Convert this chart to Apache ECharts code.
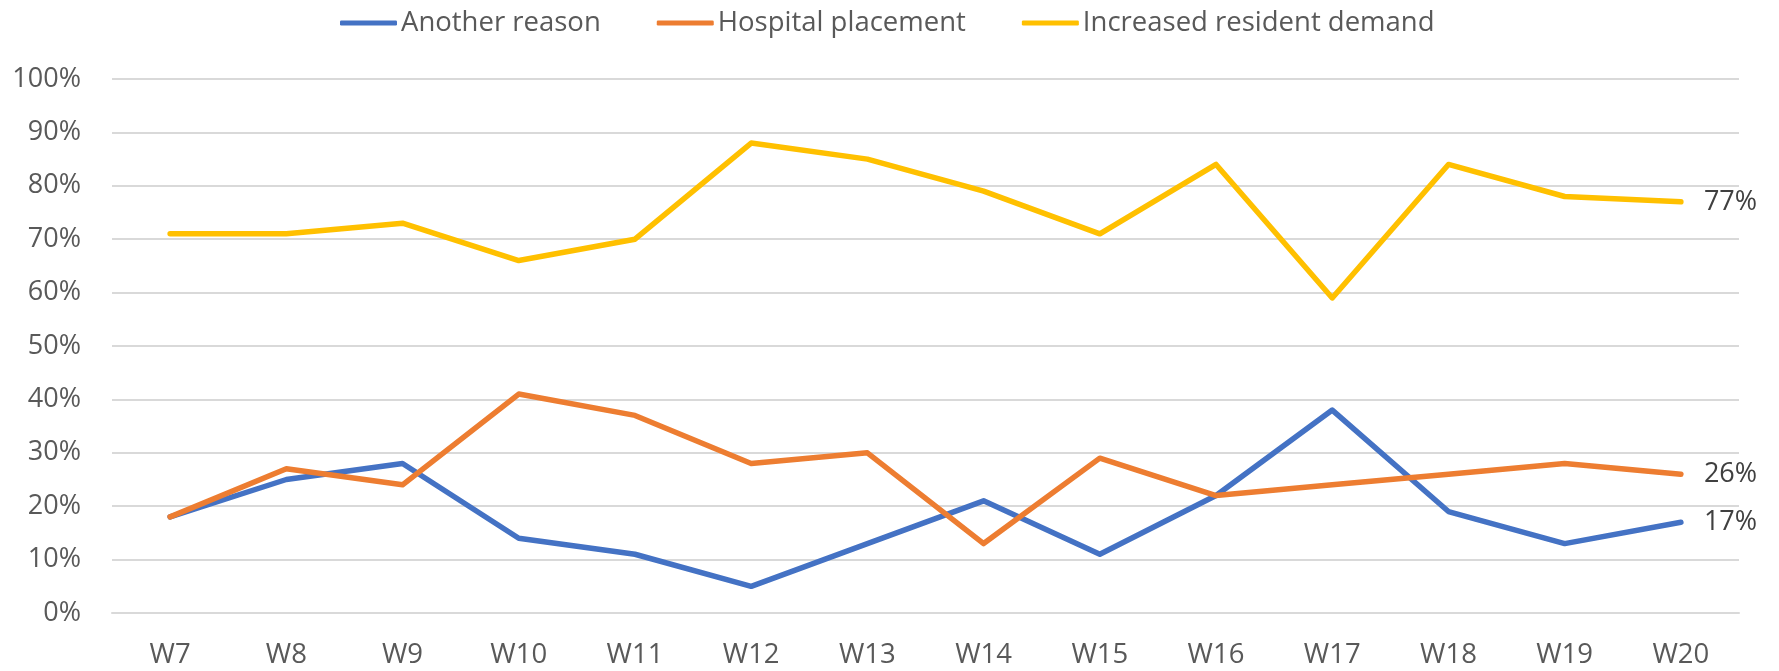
<!DOCTYPE html>
<html>
<head>
<meta charset="utf-8">
<script src="https://cdn.jsdelivr.net/npm/echarts@6/dist/echarts.min.js"></script>
<style>
  html, body { margin: 0; padding: 0; background: #fff; }
  #chart { width: 1779px; height: 671px; }
</style>
</head>
<body>
<div id="chart"></div>
<script>
// weeks on the x axis
const weeks = ['W7', 'W8', 'W9', 'W10', 'W11', 'W12', 'W13', 'W14', 'W15', 'W16', 'W17', 'W18', 'W19', 'W20']
const seriesNames = ['Another reason', 'Hospital placement', 'Increased resident demand']
const anotherReason = [18, 25, 28, 14, 11, 5, 13, 21, 11, 22, 38, 19, 13, 17]
const hospitalPlacement = [18, 27, 24, 41, 37, 28, 30, 13, 29, 22, 24, 26, 28, 26]
const residentDemand = [71, 71, 73, 66, 70, 88, 85, 79, 71, 84, 59, 84, 78, 77]
const colors = ['#4472C4', '#ED7D31', '#FFC000']

const labelFont = '"Open Sans", "DejaVu Sans", sans-serif'

const myChart = echarts.init(document.getElementById('chart'))

const makeSeries = (name, data, color) => ({
  name: name,
  type: 'line',
  data: data,
  symbol: 'none',
  smooth: false,
  lineStyle: { color: color, width: 5.5, cap: 'round', join: 'round' },
  itemStyle: { color: color },
  // 末尾数值标签
  endLabel: {
    show: true,
    formatter: p => p.value + '%',
    color: '#404040',
    fontFamily: labelFont,
    fontSize: 27,
    distance: 23
  }
})

const option = {
  backgroundColor: '#FFF',
  animation: false,
  grid: {
    left: 112,
    right: 40,
    top: 79,
    bottom: 58
  },
  legend: {
    top: 4,
    left: 335,
    itemWidth: 57,
    itemHeight: 5,
    itemGap: 56,
    icon: 'roundRect',
    textStyle: {
      color: '#595959',
      fontFamily: labelFont,
      fontSize: 27.5,
      padding: [0, 0, 0, -1]
    },
    data: seriesNames
  },
  xAxis: {
    type: 'category',
    data: weeks,
    boundaryGap: true,
    axisLine: { show: true, lineStyle: { color: '#D9D9D9', width: 2 } },
    axisTick: { show: false },
    axisLabel: {
      color: '#595959',
      fontFamily: labelFont,
      fontSize: 27.5,
      margin: 28
    }
  },
  yAxis: {
    type: 'value',
    min: 0,
    max: 100,
    interval: 10,
    axisLine: { show: false },
    axisTick: { show: false },
    splitLine: { lineStyle: { color: '#D9D9D9', width: 2 } },
    axisLabel: {
      formatter: '{value}%',
      color: '#595959',
      fontFamily: labelFont,
      fontSize: 27,
      margin: 31
    }
  },
  series: [
    makeSeries(seriesNames[0], anotherReason, colors[0]),
    makeSeries(seriesNames[1], hospitalPlacement, colors[1]),
    makeSeries(seriesNames[2], residentDemand, colors[2])
  ]
}

myChart.setOption(option)
</script>
</body>
</html>
